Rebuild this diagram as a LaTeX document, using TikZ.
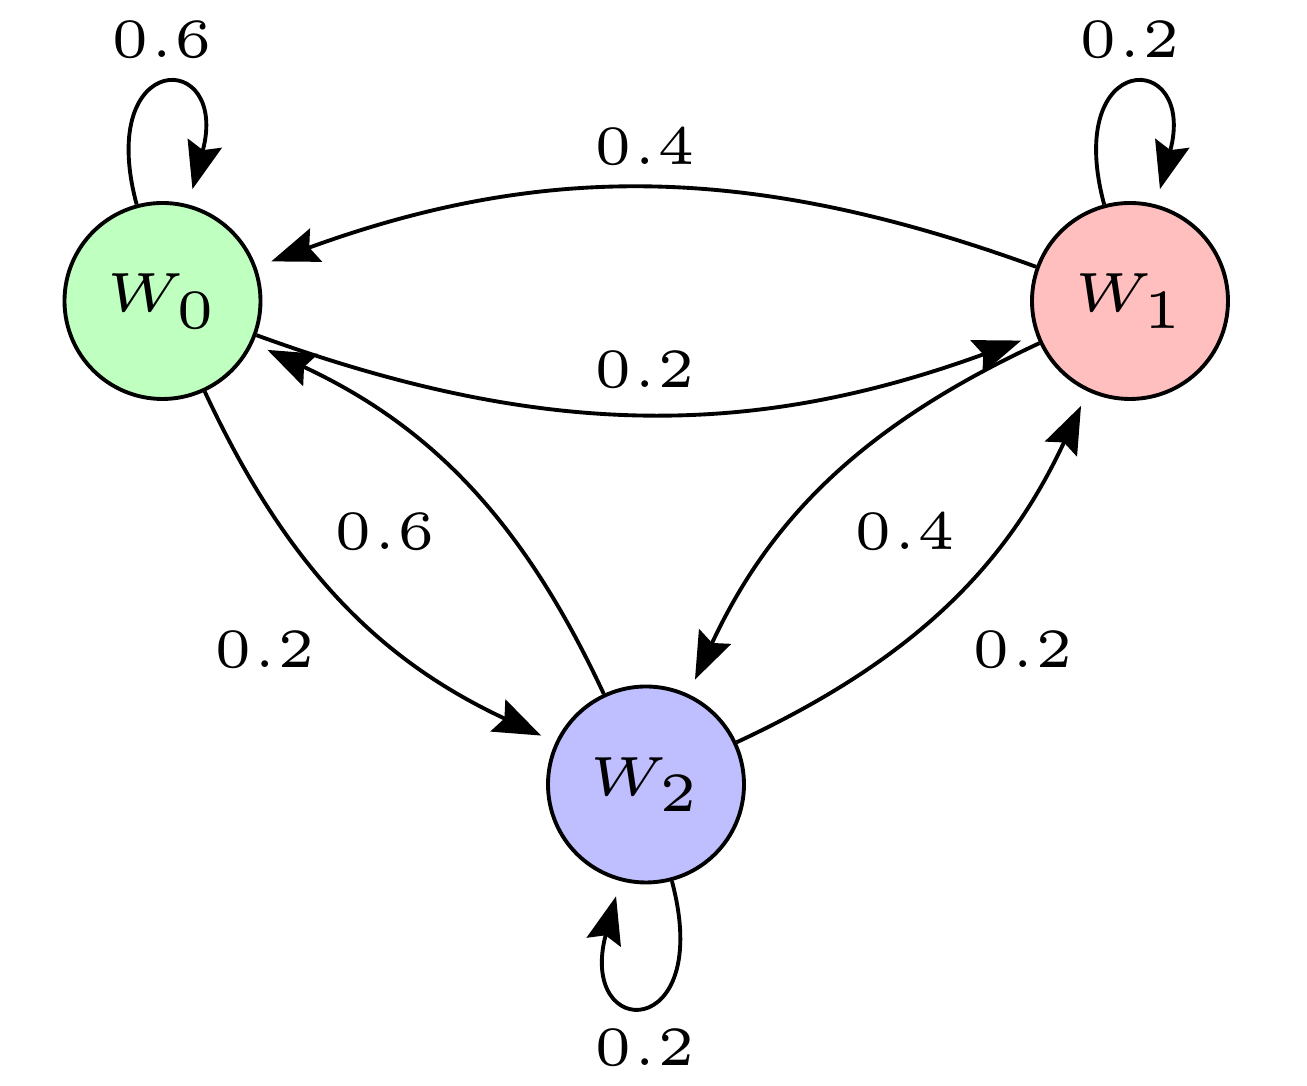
\documentclass[tikz,border=0pt]{standalone}
\usepackage{graphicx}
\usetikzlibrary{arrows.meta}
\newcommand{\lbltext}[1]{\scalebox{3.15}{\fontsize{5}{6}\selectfont$#1$}}
\begin{document}
\begin{tikzpicture}[
  state/.style={circle, draw, line width=1.1pt, minimum size=1.96cm, inner sep=0pt},
  edge/.style={line width=1.1pt, -{Stealth[length=13.5pt,width=10pt,inset=2pt]}, shorten >=4.5pt},
  lab/.style={inner sep=0pt},
]
\useasboundingbox (0,0) rectangle (13.07,10.86);
\node[state, fill=green!25] (w0) at (1.625,7.85) {\lbltext{W_0}};
\node[state, fill=red!25] (w1) at (11.30,7.85) {\lbltext{W_1}};
\node[state, fill=blue!25] (w2) at (6.46,3.015) {\lbltext{W_2}};

\draw[edge] (w0) to[out=105,in=75,looseness=8] (w0);
\draw[edge] (w1) to[out=105,in=75,looseness=8] (w1);
\draw[edge] (w2) to[out=285,in=255,looseness=8.3] (w2);

\draw[edge] (w1) to[bend right=20] (w0);
\draw[edge] (w0) to[bend right=20] (w1);
\draw[edge] (w0) to[bend right=20] (w2);
\draw[edge] (w2) to[bend right=20] (w0);
\draw[edge] (w1) to[bend right=20] (w2);
\draw[edge] (w2) to[bend right=20] (w1);

\node[lab] (l1) at (1.62,10.46) {\lbltext{0.6}};
\node[lab] (l2) at (11.30,10.46) {\lbltext{0.2}};
\node[lab] (l3) at (6.45,9.39) {\lbltext{0.4}};
\node[lab] (l4) at (6.45,7.16) {\lbltext{0.2}};
\node[lab] (l5) at (3.85,5.54) {\lbltext{0.6}};
\node[lab] (l6) at (2.65,4.36) {\lbltext{0.2}};
\node[lab] (l7) at (9.05,5.54) {\lbltext{0.4}};
\node[lab] (l8) at (10.23,4.36) {\lbltext{0.2}};
\node[lab] (l9) at (6.45,0.38) {\lbltext{0.2}};
\end{tikzpicture}
\end{document}
